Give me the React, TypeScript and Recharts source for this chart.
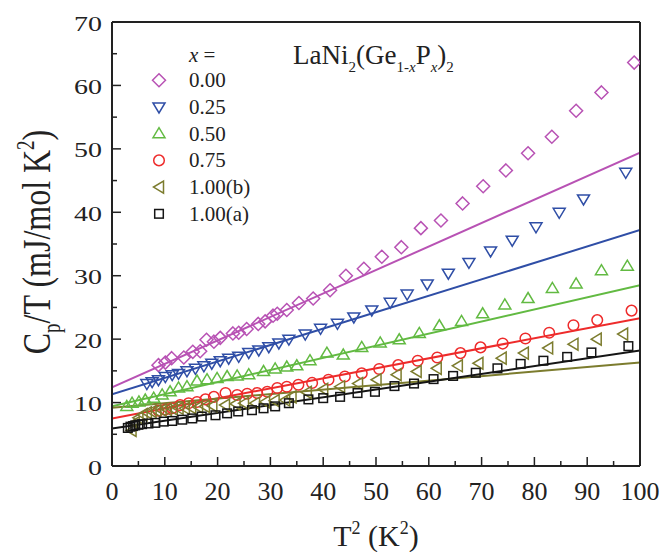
import React from "react";
import { ScatterChart, Scatter, XAxis, YAxis, ReferenceLine } from "recharts";

// T^2 (K^2), Cp/T (mJ/mol K^2)
const pts000: [number, number][] = [
  [8.8, 15.9], [10.1, 16.3], [11.3, 17.0], [13.6, 17.1], [15.3, 18.0], [16.7, 18.1],
  [17.9, 19.9], [19.3, 19.6], [20.5, 20.2], [22.9, 20.9], [24.0, 21.0], [25.5, 21.6],
  [27.7, 22.4], [29.0, 22.8], [30.5, 23.7], [31.3, 24.0], [33.1, 24.6], [35.4, 25.7],
  [38.1, 26.4], [41.3, 27.7], [44.3, 30.0], [47.7, 31.1], [51.1, 33.0], [54.8, 34.5],
  [58.5, 37.5], [62.3, 38.7], [66.4, 41.4], [70.3, 44.1], [74.6, 46.6], [78.8, 49.3],
  [83.3, 51.9], [87.9, 56.0], [92.7, 58.9], [98.9, 63.6],
];
const pts025: [number, number][] = [
  [6.6, 13.0], [7.6, 13.3], [8.8, 13.6], [10.1, 14.1], [11.4, 14.4], [12.6, 14.6],
  [14.2, 15.0], [15.8, 15.4], [17.4, 15.8], [18.9, 16.2], [20.5, 16.6], [22.1, 17.0],
  [24.0, 17.3], [25.9, 17.9], [27.8, 18.3], [29.7, 18.8], [31.6, 19.4], [33.5, 20.0],
  [36.6, 20.8], [39.5, 21.7], [42.7, 22.5], [45.8, 23.5], [49.2, 24.6], [52.7, 25.8],
  [55.9, 27.1], [59.7, 28.7], [63.7, 30.4], [67.6, 32.1], [71.7, 33.9], [75.8, 35.6],
  [80.3, 37.7], [84.7, 40.0], [89.3, 42.1], [97.3, 46.3],
];
const pts050: [number, number][] = [
  [2.8, 9.4], [3.8, 9.9], [5.1, 10.1], [6.3, 10.4], [7.9, 10.7], [9.5, 11.2],
  [11.0, 11.7], [12.6, 12.3], [14.2, 12.5], [16.1, 13.4], [18.0, 13.6], [19.9, 13.8],
  [21.8, 14.1], [23.7, 14.2], [25.9, 14.4], [28.7, 14.9], [30.9, 15.3], [33.1, 15.6],
  [35.0, 15.8], [37.5, 16.6], [40.7, 17.8], [43.8, 17.5], [47.3, 18.7], [50.8, 19.4],
  [54.4, 19.9], [58.2, 20.9], [62.0, 22.1], [66.2, 22.8], [70.2, 24.0], [74.4, 25.4],
  [78.8, 26.4], [83.4, 28.0], [87.9, 28.7], [92.7, 30.8], [97.6, 31.5],
];
const pts075: [number, number][] = [
  [8.8, 8.7], [10.1, 8.9], [11.4, 9.1], [12.9, 9.6], [14.5, 9.9], [16.1, 10.1],
  [17.7, 10.5], [19.3, 10.9], [21.5, 11.5], [23.7, 11.2], [25.6, 11.4], [27.5, 11.5],
  [29.4, 11.7], [31.3, 12.3], [33.1, 12.5], [35.3, 12.8], [37.9, 13.1], [41.0, 13.6],
  [44.1, 14.1], [47.3, 14.6], [50.6, 15.3], [54.2, 15.9], [57.9, 16.6], [61.6, 17.1],
  [66.0, 17.8], [69.8, 18.7], [74.0, 19.3], [78.3, 20.1], [82.8, 21.0], [87.4, 22.2],
  [91.9, 23.0], [98.4, 24.5],
];
const pts100b: [number, number][] = [
  [3.7, 5.6], [4.3, 6.8], [5.0, 7.6], [5.8, 8.1], [6.6, 8.4], [7.5, 8.6],
  [8.4, 8.7], [9.4, 8.8], [10.4, 8.9], [11.5, 9.0], [12.6, 9.1], [13.8, 9.1],
  [15.0, 9.2], [16.3, 9.3], [17.6, 9.4], [19.0, 9.5], [21.4, 9.6], [23.4, 9.8],
  [25.0, 9.9], [27.1, 9.9], [29.0, 10.1], [30.8, 10.3], [32.8, 10.4], [34.0, 10.9],
  [36.9, 11.6], [40.0, 12.1], [43.2, 12.5], [46.6, 13.0], [50.1, 13.6], [53.9, 14.4],
  [57.7, 14.9], [61.5, 15.4], [65.5, 15.8], [69.4, 16.2], [73.8, 17.0], [78.0, 17.8],
  [82.6, 18.6], [87.4, 19.2], [91.8, 20.0], [96.8, 20.8],
];
const pts100a: [number, number][] = [
  [3.0, 6.0], [3.5, 6.2], [4.0, 6.3], [4.4, 6.4], [5.0, 6.5], [5.7, 6.6], [6.9, 6.7],
  [8.2, 6.8], [9.8, 7.0], [11.4, 7.1], [13.3, 7.3], [15.2, 7.5], [17.0, 7.8],
  [19.6, 8.0], [21.8, 8.3], [23.9, 8.6], [26.5, 8.8], [28.7, 9.1], [30.9, 9.4],
  [33.5, 9.9], [37.2, 10.5], [40.0, 10.7], [43.2, 10.9], [46.5, 11.5], [49.8, 11.7],
  [53.5, 12.6], [57.2, 13.0], [60.9, 13.7], [64.6, 14.2], [68.9, 14.7], [73.0, 15.4],
  [77.4, 16.1], [81.7, 16.6], [86.2, 17.2], [90.8, 17.9], [97.8, 18.9],
];

// linear fits: value at T^2 = 0 and T^2 = 100
const fitAt0 = [12.4, 11.3, 9.4, 7.5, 9.2, 5.9];
const fitAt100 = [49.4, 37.2, 28.5, 23.3, 16.3, 18.2];

const labels = ["0.00", "0.25", "0.50", "0.75", "1.00(b)", "1.00(a)"];
const colors = ["#B852B4", "#2F4EA6", "#62BA42", "#EE2B2B", "#7C7C2E", "#151515"];
const kinds = ["diamond", "down", "up", "circle", "left", "square"];
const allPoints = [pts000, pts025, pts050, pts075, pts100b, pts100a];

const xTicks = [0, 5, 10, 15, 20, 25, 30, 35, 40, 45, 50, 55, 60, 65, 70, 75, 80, 85, 90, 95, 100];
const yTicks = [0, 5, 10, 15, 20, 25, 30, 35, 40, 45, 50, 55, 60, 65, 70];

const FONT = "'Liberation Serif', 'Times New Roman', serif";
const AXIS = "#222";

function Marker({ kind, cx, cy, color }: any) {
  if (cx == null || cy == null) return null;
  const common = { fill: "none", stroke: color, strokeWidth: 1.5 };
  switch (kind) {
    case "diamond":
      return <polygon {...common} points={`${cx},${cy - 6.5} ${cx + 6.5},${cy} ${cx},${cy + 6.5} ${cx - 6.5},${cy}`} />;
    case "down":
      return <polygon {...common} points={`${cx - 6},${cy - 4} ${cx + 6},${cy - 4} ${cx},${cy + 6}`} />;
    case "up":
      return <polygon {...common} points={`${cx - 6},${cy + 4} ${cx + 6},${cy + 4} ${cx},${cy - 6}`} />;
    case "circle":
      return <circle {...common} cx={cx} cy={cy} r={5.3} />;
    case "left":
      return <polygon {...common} points={`${cx + 4.5},${cy - 6} ${cx + 4.5},${cy + 6} ${cx - 5.5},${cy}`} />;
    default:
      return <rect {...common} x={cx - 4.3} y={cy - 4.3} width={8.6} height={8.6} />;
  }
}

const tickLen = (v: number) => (v % 10 === 0 ? 9 : 5);

function BottomTick({ x, y, payload }: any) {
  const v = payload.value;
  return (
    <g>
      <line x1={x} x2={x} y1={y} y2={y - tickLen(v)} stroke={AXIS} strokeWidth={1.5} />
      {v % 10 === 0 && (
        <text x={x} y={y + 34} textAnchor="middle" fontFamily={FONT} fontSize={26} fill="#222">
          {v}
        </text>
      )}
    </g>
  );
}

function TopTick({ x, y, payload }: any) {
  return <line x1={x} x2={x} y1={y} y2={y + tickLen(payload.value)} stroke={AXIS} strokeWidth={1.5} />;
}

function LeftTick({ x, y, payload }: any) {
  const v = payload.value;
  return (
    <g>
      <line x1={x} x2={x + tickLen(v)} y1={y} y2={y} stroke={AXIS} strokeWidth={1.5} />
      {v % 10 === 0 && (
        <text
          transform={`translate(${x - 10},${y + 8.5}) scale(1.27,1)`}
          textAnchor="end"
          fontFamily={FONT}
          fontSize={22}
          fill="#222"
        >
          {v}
        </text>
      )}
    </g>
  );
}

function RightTick({ x, y, payload }: any) {
  return <line x1={x} x2={x - tickLen(payload.value)} y1={y} y2={y} stroke={AXIS} strokeWidth={1.5} />;
}

export default function App() {
  return (
    <div style={{ position: "absolute", left: 0, top: 0, width: 663, height: 552, background: "#fff" }}>
      <ScatterChart width={663} height={552} margin={{ top: 0, right: 0, bottom: 0, left: 0 }}>
        <XAxis
          type="number"
          dataKey="x"
          domain={[0, 100]}
          ticks={xTicks}
          interval={0}
          height={86}
          tickSize={0}
          tickMargin={0}
          tickLine={false}
          tick={<BottomTick />}
          axisLine={{ stroke: AXIS, strokeWidth: 2 }}
          allowDataOverflow
        />
        <XAxis
          xAxisId="top"
          orientation="top"
          type="number"
          dataKey="x"
          domain={[0, 100]}
          ticks={xTicks}
          interval={0}
          height={22}
          tickSize={0}
          tickMargin={0}
          tickLine={false}
          tick={<TopTick />}
          axisLine={{ stroke: AXIS, strokeWidth: 2 }}
        />
        <YAxis
          type="number"
          dataKey="y"
          domain={[0, 70]}
          ticks={yTicks}
          interval={0}
          width={112}
          tickSize={0}
          tickMargin={0}
          tickLine={false}
          tick={<LeftTick />}
          axisLine={{ stroke: AXIS, strokeWidth: 2 }}
          allowDataOverflow
        />
        <YAxis
          yAxisId="right"
          orientation="right"
          type="number"
          dataKey="y"
          domain={[0, 70]}
          ticks={yTicks}
          interval={0}
          width={23}
          tickSize={0}
          tickMargin={0}
          tickLine={false}
          tick={<RightTick />}
          axisLine={{ stroke: AXIS, strokeWidth: 2 }}
        />
        {labels.map((lab, i) => (
          <ReferenceLine
            key={"fit" + lab}
            segment={[
              { x: 0, y: fitAt0[i] },
              { x: 100, y: fitAt100[i] },
            ]}
            stroke={colors[i]}
            strokeWidth={2}
            ifOverflow="hidden"
          />
        ))}
        {labels.map((lab, i) => (
          <Scatter
            key={lab}
            name={lab}
            data={allPoints[i].map(([x, y]) => ({ x, y }))}
            isAnimationActive={false}
            shape={(p: any) => <Marker kind={kinds[i]} cx={p.cx} cy={p.cy} color={colors[i]} />}
          />
        ))}
      </ScatterChart>

      <svg
        width={663}
        height={552}
        style={{ position: "absolute", left: 0, top: 0, pointerEvents: "none" }}
        fontFamily={FONT}
        fill="#222"
      >
        {/* title */}
        <text x={293} y={64} fontSize={27}>
          LaNi<tspan dy={8} fontSize={15}>2</tspan>
          <tspan dy={-8}>(Ge</tspan>
          <tspan dy={8} fontSize={15}>
            1-<tspan fontStyle="italic">x</tspan>
          </tspan>
          <tspan dy={-8}>P</tspan>
          <tspan dy={8} fontSize={15} fontStyle="italic">x</tspan>
          <tspan dy={-8}>)</tspan>
          <tspan dy={8} fontSize={15}>2</tspan>
        </text>

        {/* legend */}
        <text x={189} y={62} fontSize={21}>
          <tspan fontStyle="italic">x</tspan> =
        </text>
        {labels.map((lab, i) => {
          const base = 87.3 + i * 26.7;
          return (
            <g key={"lg" + lab}>
              <Marker kind={kinds[i]} cx={159} cy={base - 7} color={colors[i]} />
              <text x={189} y={base} fontSize={21}>
                {lab}
              </text>
            </g>
          );
        })}

        {/* axis titles */}
        <text transform="translate(50,242) scale(1.27,1) rotate(-90)" textAnchor="middle" fontSize={32}>
          C<tspan dy={8} fontSize={19}>p</tspan>
          <tspan dy={-8}>/T (mJ/mol K</tspan>
          <tspan dy={-13} fontSize={19}>2</tspan>
          <tspan dy={13}>)</tspan>
        </text>
        <text x={376} y={546} textAnchor="middle" fontSize={30}>
          T<tspan dy={-12} fontSize={18}>2</tspan>
          <tspan dy={12}> (K</tspan>
          <tspan dy={-12} fontSize={18}>2</tspan>
          <tspan dy={12}>)</tspan>
        </text>
      </svg>
    </div>
  );
}
